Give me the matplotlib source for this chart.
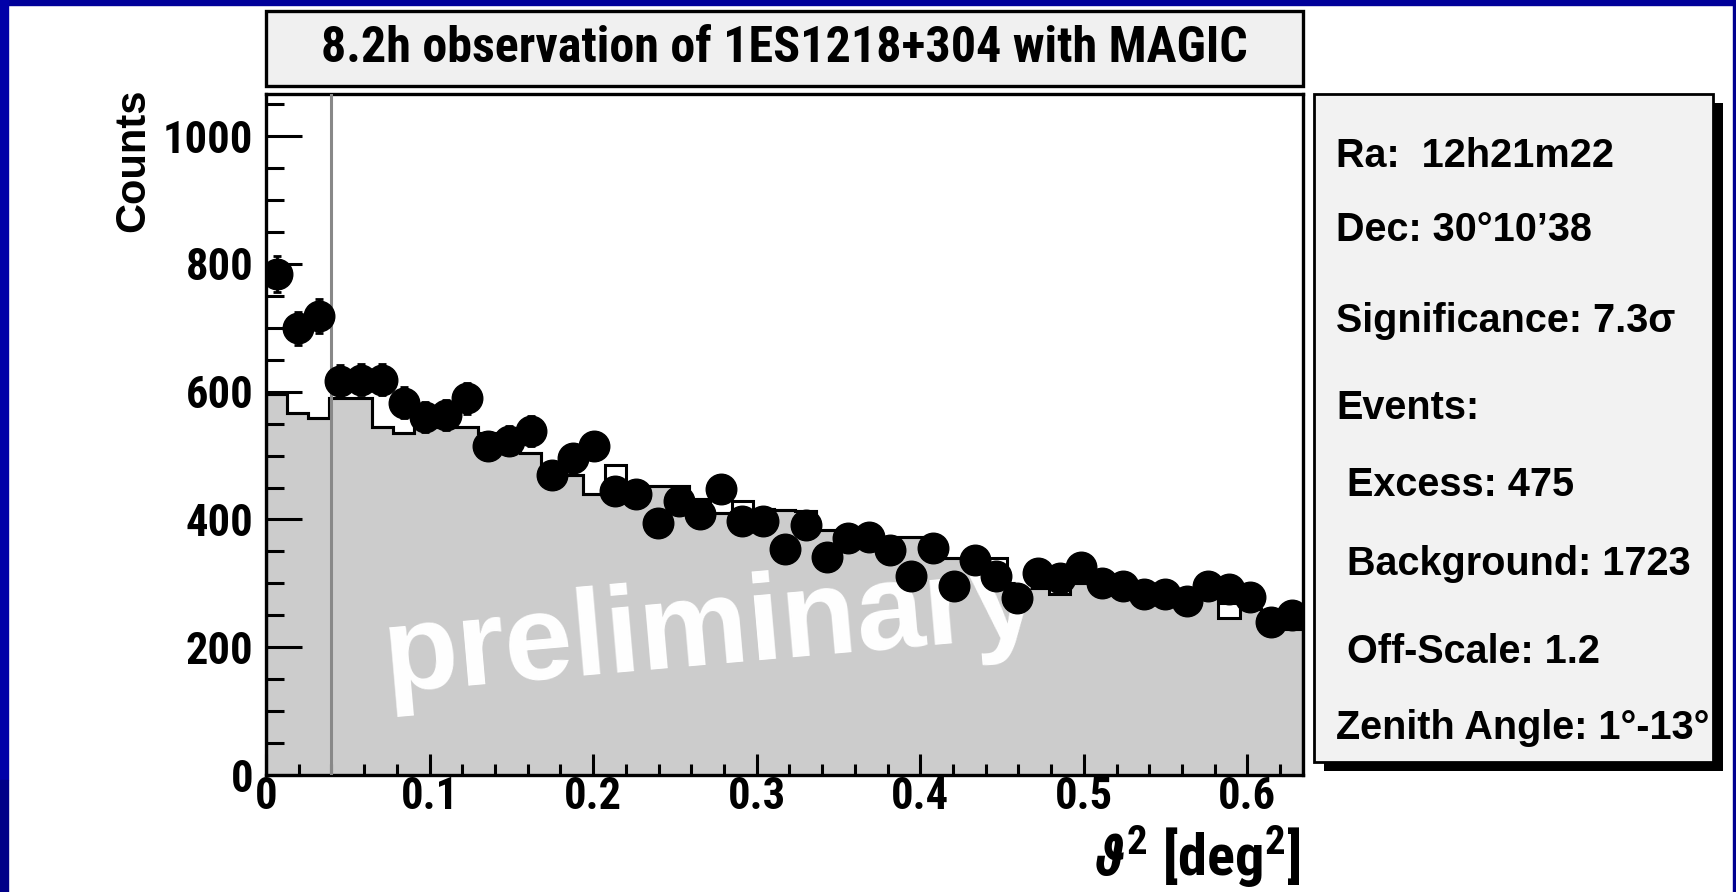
#!/usr/bin/env python3
"""
Theta^2 distribution of 1ES1218+304 (MAGIC), ROOT-style slide figure.
"""

import numpy as np
import matplotlib
matplotlib.use('Agg')
import matplotlib.pyplot as plt
import matplotlib.patches as mpatches
import matplotlib.font_manager as fm
from matplotlib.ticker import MultipleLocator

# Data: on-source counts (points) and off-source histogram per theta^2 bin
theta2_max = 0.634
n_bins = 49
on_counts = [784, 699, 718, 617, 619, 619, 583, 560, 563, 590,
             515, 523, 538, 469, 496, 515, 445, 440, 395, 429,
             408, 448, 397, 397, 354, 392, 341, 371, 373, 352,
             312, 355, 296, 336, 312, 277, 316, 308, 325, 301,
             296, 283, 283, 272, 296, 291, 278, 240, 250]
off_line = [597, 567, 559, 590, 590, 545, 535, 544, 544, 544,
            535, 533, 504, 470, 469, 440, 485, 453, 453, 453,
            432, 410, 429, 416, 415, 413, 384, 375, 375, 373,
            373, 365, 340, 330, 340, 300, 292, 300, 300, 294,
            294, 289, 284, 276, 279, 270, 260, 254, 228]
off_fill = [597, 567, 559, 590, 590, 545, 535, 544, 544, 544,
            535, 533, 504, 470, 469, 440, 455, 453, 453, 453,
            432, 410, 410, 416, 415, 413, 384, 375, 375, 373,
            373, 365, 340, 330, 318, 300, 292, 284, 300, 294,
            294, 289, 284, 276, 279, 245, 260, 254, 228]
theta2_cut = 0.04

title = '8.2h observation of 1ES1218+304 with MAGIC'
info_lines = ['Ra:  12h21m22', 'Dec: 30°10’38', 'Significance: 7.3σ', 'Events:',
              ' Excess: 475', ' Background: 1723', ' Off-Scale: 1.2',
              'Zenith Angle: 1°-13°']

# Fonts: a condensed bold face stands in for ROOT's helvetica-narrow
wide = ['Liberation Sans', 'DejaVu Sans']
narrow = wide
for pref in ['RobotoCondensed-Bold.', 'BarlowSemiCondensed-Bold.', 'AsapCondensed-Bold.']:
    hits = [f for f in fm.fontManager.ttflist if pref in f.fname]
    if hits:
        narrow = [hits[0].name, 'DejaVu Sans']
        break
plt.rcParams['font.weight'] = 'bold'
plt.rcParams['mathtext.fontset'] = 'custom'
plt.rcParams['mathtext.rm'] = narrow[0] + ':bold'
plt.rcParams['mathtext.bf'] = narrow[0] + ':bold'
plt.rcParams['mathtext.it'] = narrow[0] + ':bold:italic'

W, H = 1736, 892
fig = plt.figure(figsize=(W / 100, H / 100), dpi=100, facecolor='white')


def fx(px):
    return px / W


def fy(py):
    return 1 - py / H


# Slide border (blue)
fig.patches.append(mpatches.Rectangle((0, fy(5)), 1, fy(0) - fy(5), transform=fig.transFigure,
                                      color='#00009a', zorder=0))
fig.patches.append(mpatches.Rectangle((0, fy(780)), fx(8), fy(0) - fy(780), transform=fig.transFigure,
                                      color='#0000a8', zorder=0))
fig.patches.append(mpatches.Rectangle((0, 0), fx(8), fy(780), transform=fig.transFigure,
                                      color='#000088', zorder=0))
fig.patches.append(mpatches.Rectangle((fx(1733), 0), fx(3), 1, transform=fig.transFigure,
                                      color='#000090', zorder=0))

# Main axes
ax_l, ax_r, ax_t, ax_b = 266, 1303, 94, 775
ax = fig.add_axes([fx(ax_l), fy(ax_b), fx(ax_r - ax_l), fy(ax_t) - fy(ax_b)])

edges = np.linspace(0, theta2_max, n_bins + 1)
centers = 0.5 * (edges[:-1] + edges[1:])

ax.stairs(off_fill, edges, fill=True, color='#cccccc', zorder=1)
ax.stairs(off_fill, edges, color='black', linewidth=2.2, zorder=2)
ax.stairs(off_line, edges, color='black', linewidth=2.2, zorder=2)

ax.text(0.43, 0.21, 'preliminary', transform=ax.transAxes, color='white',
        fontsize=88, fontweight='bold', family=wide, rotation=5,
        ha='center', va='center', zorder=3)

ax.axvline(theta2_cut, color='#888888', linewidth=2.2, zorder=4)

ax.errorbar(centers, on_counts, yerr=np.sqrt(on_counts), fmt='o', color='black',
            markersize=22, elinewidth=2, capsize=3, capthick=2, zorder=5)

ax.set_xlim(0, theta2_max)
ax.set_ylim(0, 1066)
ax.xaxis.set_minor_locator(MultipleLocator(0.02))
ax.yaxis.set_major_locator(MultipleLocator(200))
ax.yaxis.set_minor_locator(MultipleLocator(50))
ax.tick_params(axis='y', which='major', direction='in', length=26, width=2.2, pad=9)
ax.tick_params(axis='y', which='minor', direction='in', length=13, width=2.2)
ax.tick_params(axis='x', which='major', direction='in', length=15, width=2.2, pad=1)
ax.tick_params(axis='x', which='minor', direction='in', length=8, width=2.2)
ax.set_xticks([0, 0.1, 0.2, 0.3, 0.4, 0.5, 0.6])
ax.set_xticklabels(['0', '0.1', '0.2', '0.3', '0.4', '0.5', '0.6'])
for lab in ax.get_xticklabels() + ax.get_yticklabels():
    lab.set_family(narrow)
    lab.set_fontsize(32)
    lab.set_fontweight('bold')
for sp in ax.spines.values():
    sp.set_linewidth(2.4)

# Axis titles
fig.text(fx(133), fy(ax_t - 6), 'Counts', rotation=90, ha='center', va='top',
         fontsize=30, fontweight='bold', family=wide)
fig.text(fx(1301), fy(876), r'$\vartheta^{2}$ [deg$^{2}$]', ha='right', va='baseline',
         fontsize=42, fontweight='bold', family=narrow)

# Title box
fig.patches.append(mpatches.Rectangle((fx(ax_l), fy(86)), fx(ax_r - ax_l), fy(11) - fy(86),
                                      transform=fig.transFigure, facecolor='#f0f0f0',
                                      edgecolor='black', linewidth=2.4, zorder=2))
fig.text(fx(784), fy(49), title, ha='center', va='center', fontsize=36,
         fontweight='bold', family=narrow, zorder=3)

# Info box with shadow
bx_l, bx_r, bx_t, bx_b = 1314, 1713, 94, 762
fig.patches.append(mpatches.Rectangle((fx(bx_l + 10), fy(bx_b + 9)), fx(bx_r - bx_l), fy(bx_t) - fy(bx_b),
                                      transform=fig.transFigure, facecolor='black',
                                      edgecolor='none', zorder=2))
fig.patches.append(mpatches.Rectangle((fx(bx_l), fy(bx_b)), fx(bx_r - bx_l), fy(bx_t) - fy(bx_b),
                                      transform=fig.transFigure, facecolor='#f2f2f2',
                                      edgecolor='black', linewidth=2, zorder=3))
line_y = [156, 230, 321, 408, 485, 564, 652, 728]
for txt, yy in zip(info_lines, line_y):
    fig.text(fx(1336), fy(yy), txt, ha='left', va='center', fontsize=28.5,
             fontweight='bold', family=wide, zorder=4)

fig.savefig('out.png', dpi=100, facecolor='white')
